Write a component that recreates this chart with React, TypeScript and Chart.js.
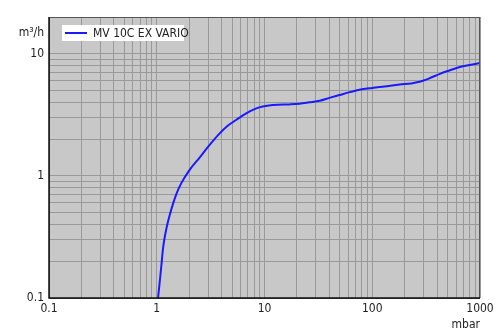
import React, { useEffect, useRef } from "react";
import { Chart, registerables } from "chart.js";

Chart.register(...registerables);

const seriesName = "MV 10C EX VARIO";
const pressure = [1.028, 1.066, 1.105, 1.137, 1.174, 1.238, 1.32, 1.523, 1.695, 2.02, 2.51, 2.99, 3.84, 4.5, 5.49, 6.3, 7.3, 8.4, 9.64, 11, 13.3, 17, 21.2, 26, 32.5, 40, 50, 62, 76, 100, 130, 180, 230, 275, 340, 425, 520, 650, 800, 1000];
const flow = [0.1, 0.136, 0.186, 0.243, 0.299, 0.382, 0.479, 0.712, 0.876, 1.12, 1.418, 1.729, 2.23, 2.55, 2.88, 3.13, 3.37, 3.57, 3.7, 3.77, 3.82, 3.85, 3.9, 4.0, 4.12, 4.35, 4.6, 4.85, 5.07, 5.25, 5.4, 5.6, 5.72, 5.9, 6.3, 6.85, 7.3, 7.8, 8.1, 8.4];
const xTickLabels = ["0.1", "1", "10", "100", "1000"];
const yTickLabels = ["0.1", "1", "10"];
const xTitle = "mbar";
const yTitle = "m³/h";

const FONT = "'DejaVu Sans Condensed', 'DejaVu Sans', sans-serif";

function logTicks(min: number, max: number) {
  const out: { value: number; major: boolean }[] = [];
  for (let e = Math.floor(Math.log10(min)); e <= Math.ceil(Math.log10(max)); e++) {
    for (let s = 1; s <= 9; s++) {
      const v = parseFloat((s * Math.pow(10, e)).toPrecision(3));
      if (v >= min - 1e-9 && v <= max + 1e-9) out.push({ value: v, major: s === 1 });
    }
  }
  return out;
}

function labelFor(v: number, labels: string[]) {
  const found = labels.find((l) => Math.abs(parseFloat(l) - v) < 1e-9);
  return found ?? "";
}

export default function App() {
  const ref = useRef<HTMLCanvasElement | null>(null);
  useEffect(() => {
    document.body.style.margin = "0";
    const canvas = ref.current!;
    const bgPlugin = {
      id: "bgPlugin",
      beforeDraw(chart: any) {
        const { ctx, chartArea: a } = chart;
        ctx.save();
        ctx.fillStyle = "#ffffff";
        ctx.fillRect(0, 0, chart.width, chart.height);
        ctx.fillStyle = "#c8c8c8";
        ctx.fillRect(a.left, a.top, a.right - a.left, a.bottom - a.top);
        ctx.restore();
      },
      afterDraw(chart: any) {
        const { ctx, chartArea: a } = chart;
        ctx.save();
        ctx.strokeStyle = "#555555";
        ctx.lineWidth = 1;
        ctx.strokeRect(a.left + 0.5, a.top + 0.5, a.right - a.left - 1, a.bottom - a.top);
        ctx.strokeStyle = "#111111";
        ctx.lineWidth = 1.5;
        ctx.beginPath();
        ctx.moveTo(a.left, a.top);
        ctx.lineTo(a.left, a.bottom);
        ctx.lineTo(a.right, a.bottom);
        ctx.stroke();
        ctx.fillStyle = "#222222";
        ctx.font = `12px ${FONT}`;
        ctx.textBaseline = "middle";
        ctx.textAlign = "right";
        ctx.fillText(yTitle, a.left - 5, 33);
        ctx.fillText(xTitle, a.right, 325);
        // legend
        const lx = 62, ly = 25, lw = 122, lh = 16;
        ctx.fillStyle = "#ffffff";
        ctx.fillRect(lx, ly, lw, lh);
        ctx.strokeStyle = "#1a1aff";
        ctx.lineWidth = 2;
        ctx.beginPath();
        ctx.moveTo(65, ly + lh / 2);
        ctx.lineTo(87, ly + lh / 2);
        ctx.stroke();
        ctx.fillStyle = "#222222";
        ctx.textAlign = "left";
        ctx.fillText(seriesName, 93, ly + lh / 2 + 0.5);
        ctx.restore();
      },
    };
    const chart = new Chart(canvas, {
      type: "line",
      data: {
        datasets: [
          {
            label: seriesName,
            data: pressure.map((p, i) => ({ x: p, y: flow[i] })),
            borderColor: "#1a1aff",
            borderWidth: 2,
            pointRadius: 0,
            cubicInterpolationMode: "monotone",
            fill: false,
          },
        ],
      },
      options: {
        animation: false,
        responsive: false,
        layout: { padding: { top: 17, right: 20, left: 0, bottom: 0 } },
        plugins: { legend: { display: false }, tooltip: { enabled: false } },
        scales: {
          x: {
            type: "logarithmic",
            min: 0.1,
            max: 1000,
            afterBuildTicks: (s: any) => {
              s.ticks = logTicks(0.1, 1000);
            },
            afterFit: (s: any) => {
              s.height = 36;
            },
            grid: { color: "#999999", lineWidth: 1, drawTicks: false },
            border: { display: false },
            ticks: {
              autoSkip: false,
              maxRotation: 0,
              padding: 4,
              color: "#222222",
              font: { family: FONT, size: 12 },
              callback: (v: any) => labelFor(Number(v), xTickLabels),
            },
          },
          y: {
            type: "logarithmic",
            min: 0.1,
            max: 20,
            afterBuildTicks: (s: any) => {
              s.ticks = logTicks(0.1, 20);
            },
            afterFit: (s: any) => {
              s.width = 49;
            },
            grid: { color: "#999999", lineWidth: 1, drawTicks: false },
            border: { display: false },
            ticks: {
              autoSkip: false,
              padding: 5,
              color: "#222222",
              font: { family: FONT, size: 12 },
              callback: (v: any) => labelFor(Number(v), yTickLabels),
            },
          },
        },
      },
      plugins: [bgPlugin],
    } as any);
    return () => chart.destroy();
  }, []);
  return (
    <div style={{ position: "fixed", left: 0, top: 0, width: 500, height: 334 }}>
      <canvas ref={ref} width={500} height={334} style={{ width: 500, height: 334 }} />
    </div>
  );
}
